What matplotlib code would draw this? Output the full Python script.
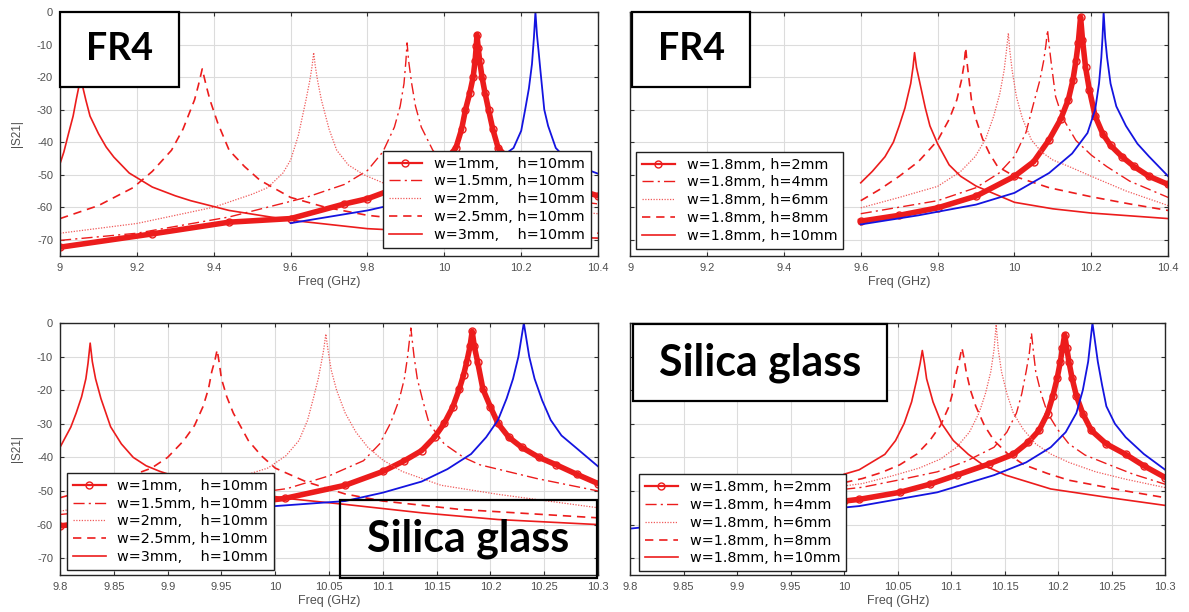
import numpy as np
import matplotlib.pyplot as plt
from matplotlib.lines import Line2D
from matplotlib.patches import Rectangle

plt.rcParams['font.family'] = ['Liberation Sans', 'DejaVu Sans']
plt.rcParams['axes.unicode_minus'] = False

# ---------------- FR4, width sweep (h = 10 mm) ----------------
fr4_w1_f = [9.0, 9.24, 9.44, 9.6, 9.74, 9.8, 9.9, 9.95, 10.0, 10.03, 10.045, 10.055, 10.066, 10.075, 10.08,
            10.083, 10.085, 10.088, 10.092, 10.098, 10.106, 10.115, 10.126, 10.14, 10.17, 10.2, 10.3, 10.4]
fr4_w1_s = [-72.3, -68.2, -64.6, -63.5, -59, -57.4, -53, -50, -46, -41.8, -36, -30, -25, -20, -15,
            -10.5, -7, -11, -15, -20, -25, -30, -36, -41.8, -45.5, -48, -53, -56.5]
fr4_w15_f = [9.0, 9.2, 9.44, 9.64, 9.74, 9.8, 9.84, 9.87, 9.885, 9.895, 9.9, 9.903,
             9.907, 9.915, 9.925, 9.94, 9.97, 10.0, 10.05, 10.1, 10.2, 10.4]
fr4_w15_s = [-70.2, -68, -63, -57, -53, -48.7, -43, -35.4, -29, -22, -15, -9.5,
             -15, -22, -29, -35.4, -42.5, -46.5, -50, -52.5, -56, -59]
fr4_w2_f = [9.0, 9.2, 9.4, 9.5, 9.54, 9.58, 9.6, 9.62, 9.64, 9.65, 9.656, 9.66,
            9.664, 9.67, 9.68, 9.7, 9.72, 9.75, 9.79, 9.85, 9.9, 10.0, 10.2, 10.4]
fr4_w2_s = [-68, -65, -60, -56, -54, -49.5, -45.5, -38, -27, -21, -16.5, -12.5,
            -16.5, -21, -27, -36, -42.5, -47, -50, -53, -55, -57, -60, -62]
fr4_w25_f = [9.0, 9.1, 9.19, 9.24, 9.29, 9.32, 9.35, 9.36, 9.366, 9.37,
             9.374, 9.38, 9.39, 9.41, 9.44, 9.48, 9.52, 9.6, 9.69, 9.8, 10.0, 10.2, 10.4]
fr4_w25_s = [-63.5, -59.5, -54, -49, -42.5, -36, -27, -22.5, -19.5, -17.5,
             -19.5, -22.5, -27, -34, -42.5, -47.5, -51.7, -57, -60, -62.5, -65, -66.5, -68]
fr4_w3_f = [9.0, 9.01, 9.022, 9.034, 9.042, 9.048, 9.052, 9.054, 9.056, 9.06, 9.067, 9.078,
            9.1, 9.12, 9.14, 9.18, 9.24, 9.3, 9.34, 9.44, 9.6, 9.8, 10.0, 10.2, 10.4]
fr4_w3_s = [-46.6, -43, -37.4, -32, -27, -23.5, -21, -20, -21, -23.5, -27, -32,
            -37.4, -41.5, -44.6, -49.5, -53.8, -56.5, -58, -61, -64, -66.6, -67.8, -68.8, -69.5]
fr4_wref_f = [9.6, 9.8, 9.95, 10.05, 10.12, 10.18, 10.2, 10.21, 10.22, 10.228, 10.233, 10.237,
              10.241, 10.245, 10.25, 10.26, 10.27, 10.29, 10.32, 10.35, 10.4]
fr4_wref_s = [-64.9, -61, -57, -52.5, -47, -41.8, -36.5, -30.2, -23.5, -16, -8, 0,
              -7, -11.8, -18, -30, -35, -41.8, -45.5, -47.5, -49.7]

# ---------------- FR4, height sweep (w = 1.8 mm) ----------------
fr4_h2_f = [9.6, 9.7, 9.8, 9.9, 10.0, 10.05, 10.09, 10.12, 10.14, 10.152, 10.16, 10.166, 10.172,
            10.177, 10.185, 10.195, 10.21, 10.23, 10.25, 10.28, 10.31, 10.35, 10.4]
fr4_h2_s = [-64.3, -62.5, -60.2, -56.6, -50.5, -46, -39.3, -33, -27, -21, -15, -9.5, -1.5,
            -8.5, -17, -24, -32, -37.5, -41, -44.5, -47.4, -50.5, -53]
fr4_h4_f = [9.6, 9.8, 9.9, 9.96, 10.0, 10.03, 10.05, 10.066, 10.076, 10.082, 10.086,
            10.09, 10.096, 10.107, 10.125, 10.16, 10.2, 10.24, 10.3, 10.4]
fr4_h4_s = [-62, -58, -54, -49.5, -44.4, -37, -28, -21, -15, -10, -5.5,
            -10, -16, -26, -32.5, -39.5, -44, -47.5, -52, -57]
fr4_h6_f = [9.6, 9.7, 9.8, 9.86, 9.898, 9.925, 9.946, 9.962, 9.973, 9.979, 9.984,
            9.988, 9.994, 10.005, 10.02, 10.044, 10.07, 10.1, 10.14, 10.2, 10.29, 10.4]
fr4_h6_s = [-60.2, -57, -53.6, -49, -44.4, -39, -32, -25, -18, -12, -6.5,
            -12, -18, -26, -32.5, -39.3, -43, -45.5, -47.4, -50.5, -55, -59.5]
fr4_h8_f = [9.6, 9.65, 9.7, 9.75, 9.8, 9.83, 9.85, 9.862, 9.869, 9.873,
            9.877, 9.881, 9.888, 9.9, 9.917, 9.935, 9.956, 10.0, 10.09, 10.2, 10.3, 10.4]
fr4_h8_s = [-58, -54.5, -50.5, -46, -39.5, -33, -27, -21, -16, -11,
            -16, -20, -27, -33, -39, -43.5, -47.5, -50.5, -54, -56.8, -59, -61]
fr4_h10_f = [9.6, 9.63, 9.663, 9.685, 9.7, 9.715, 9.73, 9.736, 9.74,
             9.745, 9.756, 9.768, 9.78, 9.8, 9.83, 9.86, 9.9, 10.0, 10.1, 10.2, 10.4]
fr4_h10_s = [-52.5, -49, -44.5, -40, -35, -29.5, -22, -17, -12.5,
             -17, -23, -29.5, -35, -40.5, -47, -50.5, -53.5, -58.5, -60.5, -61.8, -63.5]
fr4_href_f = [9.6, 9.75, 9.9, 10.0, 10.09, 10.15, 10.19, 10.21, 10.22, 10.226, 10.229, 10.232,
              10.236, 10.241, 10.25, 10.265, 10.29, 10.32, 10.35, 10.4]
fr4_href_s = [-65.3, -62.5, -59.2, -55.6, -49.5, -43.5, -37.2, -30, -22, -14, -8, 0,
              -8, -14, -22, -29, -35, -40.5, -44.4, -50.5]

# ---------------- Silica glass, width sweep (h = 10 mm) ----------------
sg_w1_f = [9.8, 9.9, 10.009, 10.065, 10.1, 10.12, 10.136, 10.148, 10.157, 10.165, 10.171, 10.175, 10.178,
           10.181, 10.183, 10.185, 10.188, 10.193, 10.2, 10.207, 10.217, 10.229, 10.245, 10.261, 10.28, 10.3]
sg_w1_s = [-60.4, -56.5, -52.2, -48.3, -44.2, -41, -38, -34, -29.9, -25, -19.7, -15.5, -11.5,
           -7, -2.5, -7, -11.5, -19.7, -25, -29.9, -34, -37, -40, -42.2, -45, -47.8]
sg_w15_f = [9.8, 9.9, 10.011, 10.05, 10.082, 10.097, 10.107, 10.115, 10.12, 10.123, 10.126,
            10.129, 10.132, 10.137, 10.143, 10.157, 10.175, 10.19, 10.243, 10.3]
sg_w15_s = [-57, -54, -49.3, -45.5, -41, -36, -29.9, -23, -16.6, -10, -1.5,
            -10, -16.6, -23, -29.9, -36, -40, -42.2, -46.3, -50]
sg_w2_f = [9.8, 9.9, 9.95, 9.993, 10.01, 10.022, 10.03, 10.036, 10.04, 10.043, 10.045, 10.047,
           10.049, 10.052, 10.057, 10.065, 10.075, 10.086, 10.1, 10.118, 10.154, 10.207, 10.3]
sg_w2_s = [-56, -51, -47.5, -43.2, -39.5, -35, -29, -21.7, -16.5, -11.5, -8, -3.3,
           -8, -14, -20, -26.8, -32.5, -37, -40.8, -44.2, -48.3, -51, -55]
sg_w25_f = [9.8, 9.84, 9.885, 9.9, 9.915, 9.925, 9.933, 9.938, 9.941, 9.944, 9.946,
            9.948, 9.95, 9.955, 9.961, 9.975, 9.987, 10.0, 10.029, 10.065, 10.1, 10.172, 10.3]
sg_w25_s = [-52, -48.5, -43.2, -40, -35, -30.5, -24.8, -19.5, -14.5, -11, -8,
            -12, -16.6, -22, -26.8, -35, -39.5, -43.2, -47.3, -50.9, -53, -55.5, -58]
sg_w3_f = [9.8, 9.805, 9.81, 9.815, 9.82, 9.824, 9.826, 9.828, 9.83, 9.833, 9.838, 9.847,
           9.857, 9.868, 9.88, 9.893, 9.92, 9.95, 10.01, 10.065, 10.136, 10.207, 10.3]
sg_w3_s = [-37, -34, -31, -26.8, -22, -16.6, -12, -6, -11.5, -16.6, -22.5, -30.9,
           -36, -40, -42.5, -44.2, -47, -49, -52.2, -54, -56.5, -58.5, -60]
sg_wref_f = [10.0, 10.065, 10.1, 10.136, 10.16, 10.182, 10.196, 10.207, 10.215, 10.221, 10.226, 10.231,
             10.236, 10.241, 10.248, 10.256, 10.266, 10.279, 10.3]
sg_wref_s = [-54.5, -53, -50.5, -47.2, -43.5, -39, -34, -28.9, -22.5, -16.6, -10, 0,
             -10, -16.6, -23, -28.9, -33.5, -37, -42.7]

# ---------------- Silica glass, height sweep (w = 1.8 mm) ----------------
sg_h2_f = [10.0, 10.014, 10.052, 10.08, 10.105, 10.135, 10.158, 10.172, 10.182, 10.19, 10.195, 10.199,
           10.202, 10.204, 10.206, 10.208, 10.21, 10.213, 10.217, 10.223, 10.231, 10.245, 10.263, 10.28, 10.3]
sg_h2_s = [-53, -52.5, -50.4, -48, -45.3, -42, -39.1, -35.5, -32, -27, -21.7, -16.5,
           -11.5, -7.5, -3.5, -7.5, -11.5, -16.5, -21.7, -27, -32, -36, -39.1, -42.5, -46]
sg_h4_f = [10.0, 10.017, 10.05, 10.087, 10.115, 10.14, 10.152, 10.161, 10.166, 10.17, 10.173, 10.175,
           10.177, 10.179, 10.184, 10.19, 10.199, 10.21, 10.225, 10.246, 10.27, 10.3]
sg_h4_s = [-49.5, -48.9, -46.8, -44.3, -41, -37, -32.5, -26.8, -21, -14.5, -9, -3,
           -9, -14.5, -21, -26.8, -31.5, -36, -39.3, -42, -45, -48]
sg_h6_f = [10.0, 10.017, 10.045, 10.07, 10.09, 10.105, 10.117, 10.126, 10.132, 10.137, 10.14, 10.142,
           10.144, 10.147, 10.152, 10.158, 10.167, 10.179, 10.193, 10.21, 10.235, 10.263, 10.3]
sg_h6_s = [-48.5, -47.8, -45.5, -43.2, -40.5, -37, -32.5, -26.8, -21, -14.5, -8, -0.5,
           -8, -14.5, -21, -26.8, -31.5, -36, -39, -41.5, -44.3, -46.5, -49]
sg_h8_f = [10.0, 10.017, 10.035, 10.052, 10.068, 10.08, 10.09, 10.098, 10.102, 10.105, 10.108, 10.11,
           10.112, 10.114, 10.118, 10.123, 10.131, 10.14, 10.153, 10.168, 10.19, 10.21, 10.263, 10.3]
sg_h8_s = [-47.5, -46.3, -44.5, -42.2, -39, -35, -30.5, -24.8, -20, -14.5, -10.5, -7.4,
           -10.5, -14.5, -20, -24.8, -30.5, -35, -39, -42.2, -44.8, -46.8, -50, -52]
sg_h10_f = [10.0, 10.014, 10.038, 10.048, 10.056, 10.063, 10.068, 10.071, 10.073,
            10.075, 10.077, 10.083, 10.091, 10.102, 10.116, 10.13, 10.151, 10.193, 10.246, 10.3]
sg_h10_s = [-45, -43.7, -39.1, -35, -29.9, -23.5, -16.6, -12, -8.2,
            -12, -16.6, -23.5, -29.9, -35, -39.1, -42.3, -45.3, -49.4, -51.9, -54.3]
sg_href_f = [9.8, 9.9, 10.014, 10.087, 10.14, 10.17, 10.193, 10.207, 10.217, 10.223, 10.228, 10.232,
             10.237, 10.241, 10.245, 10.253, 10.263, 10.28, 10.3]
sg_href_s = [-61.2, -58, -54.5, -50.4, -45.3, -41.5, -37, -32.5, -26.8, -20, -11.5, 0,
             -11.5, -18.5, -24.8, -30, -34, -39, -43.7]

w_labels = ['w=1mm,    h=10mm', 'w=1.5mm, h=10mm', 'w=2mm,    h=10mm',
            'w=2.5mm, h=10mm', 'w=3mm,    h=10mm']
h_labels = ['w=1.8mm, h=2mm', 'w=1.8mm, h=4mm', 'w=1.8mm, h=6mm',
            'w=1.8mm, h=8mm', 'w=1.8mm, h=10mm']

RED = '#ec1c1c'
BLUE = '#1414e0'
GRAY = '#505050'

# order: circles, dash-dot, dotted, dashed, solid
styles = [
    dict(color=RED, lw=4.0, marker='o', ms=5, mfc='none', mew=1.0),
    dict(color=RED, lw=1.0, ls=(0, (8, 3, 1.5, 3))),
    dict(color='#f05a5a', lw=0.9, ls=(0, (1, 1.2))),
    dict(color=RED, lw=1.2, ls=(0, (5, 3.5))),
    dict(color=RED, lw=1.2, ls='-'),
]


def draw_panel(ax, curves, ref, labels, xticks, leg_loc, leg_anchor, left):
    for (f, s), st in zip(curves, styles):
        ax.plot(f, s, **st)
    ax.plot(ref[0], ref[1], color=BLUE, lw=1.3)

    ax.set_xlim(xticks[0], xticks[-1])
    ax.set_ylim(-75, 0)
    ax.set_xticks(xticks)
    ax.set_xticklabels(['%g' % t for t in xticks])
    ax.set_yticks(np.arange(-70, 1, 10))
    ax.grid(True, color='#dcdcdc', lw=0.8)
    ax.set_axisbelow(True)
    ax.tick_params(direction='in', length=3, width=0.8, top=True, right=True,
                   labelsize=8, labelcolor=GRAY, color='#303030', pad=5,
                   labelleft=left)
    for sp in ax.spines.values():
        sp.set_linewidth(1.0)
        sp.set_color('#262626')
    ax.set_xlabel('Freq (GHz)', fontsize=9, color=GRAY, labelpad=2)
    if left:
        ax.set_ylabel('|S21|', fontsize=8.5, color=GRAY, labelpad=10)

    handles = [Line2D([], [], **st) for st in styles]
    handles[0] = Line2D([], [], color=RED, lw=1.6, marker='o', ms=5, mfc='none', mew=1)
    leg = ax.legend(handles, labels, loc=leg_loc, bbox_to_anchor=leg_anchor,
                    prop={'family': 'DejaVu Sans', 'size': 10.4},
                    frameon=True, fancybox=False, framealpha=1,
                    edgecolor='#202020', borderpad=0.42, labelspacing=0.26,
                    handlelength=2.3, handletextpad=0.8, borderaxespad=0)
    leg.get_frame().set_linewidth(1.0)


def tag(ax, text, x0, y0, w, h, fill=True, size=27):
    ax.add_patch(Rectangle((x0, y0), w, h, transform=ax.transAxes,
                           facecolor='white' if fill else 'none', edgecolor='black',
                           lw=1.6, zorder=6, clip_on=False))
    ax.text(x0 + w / 2, y0 + h / 2, text, transform=ax.transAxes, ha='center',
            va='center', fontsize=size, fontweight='bold', family='Lato', zorder=7)


fig = plt.figure(figsize=(11.89, 6.12), dpi=100)
ax_tl = fig.add_axes([0.0505, 0.5817, 0.4525, 0.3987])
ax_tr = fig.add_axes([0.530, 0.5817, 0.4525, 0.3987])
ax_bl = fig.add_axes([0.0505, 0.0605, 0.4525, 0.4118])
ax_br = fig.add_axes([0.530, 0.0605, 0.4500, 0.4118])

ticks_fr4 = np.round(np.arange(9.0, 10.41, 0.2), 2)
ticks_sg = np.round(np.arange(9.8, 10.301, 0.05), 2)

draw_panel(ax_tl,
           [(fr4_w1_f, fr4_w1_s), (fr4_w15_f, fr4_w15_s), (fr4_w2_f, fr4_w2_s),
            (fr4_w25_f, fr4_w25_s), (fr4_w3_f, fr4_w3_s)],
           (fr4_wref_f, fr4_wref_s), w_labels, ticks_fr4,
           'lower right', (0.986, 0.034), True)
draw_panel(ax_tr,
           [(fr4_h2_f, fr4_h2_s), (fr4_h4_f, fr4_h4_s), (fr4_h6_f, fr4_h6_s),
            (fr4_h8_f, fr4_h8_s), (fr4_h10_f, fr4_h10_s)],
           (fr4_href_f, fr4_href_s), h_labels, ticks_fr4,
           'lower left', (0.0105, 0.03), False)
draw_panel(ax_bl,
           [(sg_w1_f, sg_w1_s), (sg_w15_f, sg_w15_s), (sg_w2_f, sg_w2_s),
            (sg_w25_f, sg_w25_s), (sg_w3_f, sg_w3_s)],
           (sg_wref_f, sg_wref_s), w_labels, ticks_sg,
           'lower left', (0.012, 0.02), True)
draw_panel(ax_br,
           [(sg_h2_f, sg_h2_s), (sg_h4_f, sg_h4_s), (sg_h6_f, sg_h6_s),
            (sg_h8_f, sg_h8_s), (sg_h10_f, sg_h10_s)],
           (sg_href_f, sg_href_s), h_labels, ticks_sg,
           'lower left', (0.016, 0.014), False)

tag(ax_tl, 'FR4', 0.0, 0.693, 0.222, 0.307)
tag(ax_tr, 'FR4', 0.004, 0.694, 0.219, 0.306)
tag(ax_bl, 'Silica glass', 0.52, -0.012, 0.478, 0.308, fill=False, size=31)
tag(ax_br, 'Silica glass', 0.006, 0.69, 0.474, 0.307, size=31)

fig.savefig('out.png', dpi=100)
